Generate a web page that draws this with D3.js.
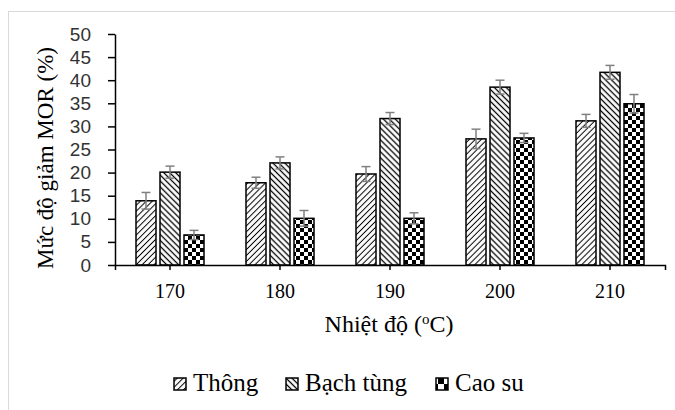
<!DOCTYPE html>
<html><head><meta charset="utf-8">
<script src="https://cdn.jsdelivr.net/npm/d3@7"></script>
<style>body{margin:0;background:#fff}</style>
</head><body>
<svg id="c" width="675" height="410"></svg>
<script>
const categories = ["170","180","190","200","210"];
const seriesNames = ["Thông","Bạch tùng","Cao su"];
const thong = [13.9, 17.8, 19.7, 27.3, 31.2];
const bachTung = [20.1, 22.1, 31.7, 38.5, 41.7];
const caoSu = [6.5, 10.1, 10.1, 27.5, 34.9];
const thongErr = [1.8, 1.2, 1.6, 2.1, 1.4];
const bachTungErr = [1.3, 1.3, 1.3, 1.5, 1.5];
const caoSuErr = [1.0, 1.7, 1.2, 1.0, 2.0];
const yTicks = [0,5,10,15,20,25,30,35,40,45,50];

const values = [thong, bachTung, caoSu];
const errs = [thongErr, bachTungErr, caoSuErr];
const svg = d3.select("#c");
const serif = "'Liberation Serif','Times New Roman',serif";
const sans = "'Liberation Sans',Arial,sans-serif";

// frame
svg.append("rect").attr("x",8.5).attr("y",11.5).attr("width",700).attr("height",500)
  .attr("fill","none").attr("stroke","#d9d9d9").attr("stroke-width",1);

// patterns
const defs = svg.append("defs");
function stripes(id, angle, period, sw){
  const p = defs.append("pattern").attr("id",id).attr("patternUnits","userSpaceOnUse")
    .attr("width",period).attr("height",period).attr("patternTransform",`rotate(${angle})`);
  p.append("rect").attr("width",period).attr("height",period).attr("fill","#fff");
  p.append("line").attr("x1",period/2).attr("y1",0).attr("x2",period/2).attr("y2",period)
    .attr("stroke","#000").attr("stroke-width",sw);
}
stripes("pThong", 45, 4.2, 1.0);
stripes("pBach", -45, 4.2, 1.3);
function checker(id, s){
  const p = defs.append("pattern").attr("id",id).attr("patternUnits","userSpaceOnUse")
    .attr("width",2*s).attr("height",2*s);
  p.append("rect").attr("width",2*s).attr("height",2*s).attr("fill","#fff");
  p.append("rect").attr("width",s).attr("height",s).attr("fill","#000");
  p.append("rect").attr("x",s).attr("y",s).attr("width",s).attr("height",s).attr("fill","#000");
}
checker("pCao", 4);
checker("pCaoL", 6);
const fills = ["url(#pThong)","url(#pBach)","url(#pCao)"];
const legendFills = ["url(#pThong)","url(#pBach)","url(#pCaoL)"];

const x0 = d3.scaleBand().domain(categories).range([115,665]).padding(0);
const x1 = d3.scaleBand().domain(d3.range(3)).range([0,68]).paddingInner(1/6).paddingOuter(0);
const y = d3.scaleLinear().domain([0,50]).range([265,34]);

// bars
categories.forEach((c,i)=>{
  const gx = x0(c) + x0.bandwidth()/2 - 34;
  values.forEach((vals,s)=>{
    const v = vals[i];
    svg.append("rect").attr("x",gx + x1(s)).attr("y",y(v))
      .attr("width",x1.bandwidth()).attr("height",y(0)-y(v))
      .attr("fill",fills[s]).attr("stroke","#000").attr("stroke-width",1.5);
  });
});
// error bars
categories.forEach((c,i)=>{
  const gx = x0(c) + x0.bandwidth()/2 - 34;
  values.forEach((vals,s)=>{
    const v = vals[i], e = errs[s][i];
    const cx = gx + x1(s) + x1.bandwidth()/2;
    const g = svg.append("g").attr("stroke","#808080").attr("stroke-width",1.5);
    g.append("line").attr("x1",cx).attr("x2",cx).attr("y1",y(v-e)).attr("y2",y(v+e));
    g.append("line").attr("x1",cx-4.5).attr("x2",cx+4.5).attr("y1",y(v+e)).attr("y2",y(v+e));
    g.append("line").attr("x1",cx-4.5).attr("x2",cx+4.5).attr("y1",y(v-e)).attr("y2",y(v-e));
  });
});

// y axis
const ya = svg.append("g").attr("transform","translate(115,0)")
  .call(d3.axisLeft(y).tickValues(yTicks).tickSize(7).tickSizeOuter(0).tickPadding(17));
ya.select(".domain").attr("stroke","#000").attr("stroke-width",1.5);
ya.selectAll(".tick line").attr("stroke","#000").attr("stroke-width",1.5);
ya.selectAll(".tick text").attr("font-family",sans).attr("font-size",19).attr("fill","#333");

// x axis
const xa = svg.append("g").attr("transform","translate(0,265)")
  .call(d3.axisBottom(x0).tickSize(5).tickSizeOuter(5).tickPadding(14));
xa.select(".domain").attr("stroke","#000").attr("stroke-width",1.5);
xa.selectAll(".tick line").attr("stroke","#000").attr("stroke-width",1.5);
xa.selectAll(".tick text").attr("font-family",serif).attr("font-size",20).attr("fill","#000");

// axis titles
svg.append("text").attr("transform","translate(53,158) rotate(-90)")
  .attr("text-anchor","middle").attr("font-family",serif).attr("font-size",23).attr("fill","#000")
  .text("Mức độ giảm MOR (%)");
const xt = svg.append("text").attr("x",389).attr("y",332).attr("text-anchor","middle")
  .attr("font-family",serif).attr("font-size",24).attr("fill","#000");
xt.append("tspan").text("Nhiệt độ (");
xt.append("tspan").attr("font-size",15).attr("dy",-8).text("o");
xt.append("tspan").attr("dy",8).text("C)");

// legend
const legX = [174, 286, 436];
seriesNames.forEach((n,s)=>{
  svg.append("rect").attr("x",legX[s]).attr("y",378).attr("width",12).attr("height",12)
    .attr("fill",legendFills[s]).attr("stroke","#000").attr("stroke-width",1.5);
  svg.append("text").attr("x",legX[s]+19).attr("y",391).attr("font-family",serif)
    .attr("font-size",25).attr("fill","#000").text(n);
});
</script>
</body></html>
